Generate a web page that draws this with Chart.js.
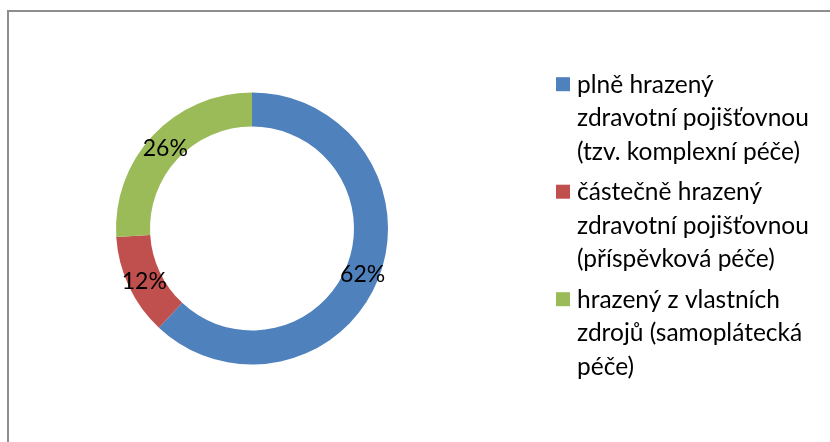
<!DOCTYPE html>
<html><head><meta charset="utf-8">
<style>html,body{margin:0;padding:0;background:#fff}#wrap{width:830px;height:442px;position:relative}</style>
<script src="https://cdn.jsdelivr.net/npm/chart.js@4/dist/chart.umd.min.js"></script>
</head><body><div id="wrap"><canvas id="c" width="830" height="442"></canvas></div>
<script>
const categories = [
  ["plně hrazený", "zdravotní pojišťovnou", "(tzv. komplexní péče)"],
  ["částečně hrazený", "zdravotní pojišťovnou", "(příspěvková péče)"],
  ["hrazený z vlastních", "zdrojů (samoplátecká", "péče)"]
];
const values = [62, 12, 26];
const colors = ['#4F81BD', '#C0504D', '#9BBB59'];

const FONT = 'Lato, "Open Sans", sans-serif';

const framePlugin = {
  id: 'frame',
  beforeDraw(chart) {
    const ctx = chart.ctx;
    ctx.save();
    ctx.fillStyle = '#fff';
    ctx.fillRect(0, 0, chart.width, chart.height);
    ctx.strokeStyle = '#8e8e8e';
    ctx.lineWidth = 2;
    ctx.beginPath();
    ctx.moveTo(8, chart.height + 2);
    ctx.lineTo(8, 11);
    ctx.lineTo(chart.width + 2, 11);
    ctx.stroke();
    ctx.restore();
  }
};

const labelPlugin = {
  id: 'pctLabels',
  afterDatasetsDraw(chart) {
    const ctx = chart.ctx;
    const meta = chart.getDatasetMeta(0);
    const data = chart.data.datasets[0].data;
    const total = data.reduce((a, b) => a + b, 0);
    ctx.save();
    ctx.font = '23px ' + FONT;
    ctx.fillStyle = '#000';
    ctx.textAlign = 'center';
    ctx.textBaseline = 'middle';
    meta.data.forEach((arc, i) => {
      const p = arc.getCenterPoint();
      ctx.fillText(Math.round(data[i] / total * 100) + '%', p.x, p.y + 2);
    });
    ctx.restore();
  }
};

const legendPlugin = {
  id: 'wrapLegend',
  afterDraw(chart) {
    const ctx = chart.ctx;
    const ds = chart.data.datasets[0];
    ctx.save();
    ctx.font = '24.5px ' + FONT;
    ctx.textAlign = 'left';
    ctx.textBaseline = 'alphabetic';
    chart.data.labels.forEach((lines, i) => {
      const base = 92.7 + i * 107.5;
      ctx.fillStyle = ds.backgroundColor[i];
      ctx.fillRect(556, base - 15.5, 14, 14);
      ctx.fillStyle = '#000';
      lines.forEach((t, j) => ctx.fillText(t, 577, base + j * 33.5));
    });
    ctx.restore();
  }
};

new Chart(document.getElementById('c'), {
  type: 'doughnut',
  data: {
    labels: categories,
    datasets: [{
      data: values,
      backgroundColor: colors,
      borderWidth: 0
    }]
  },
  options: {
    responsive: false,
    animation: false,
    cutout: '75%',
    rotation: 0,
    layout: { padding: { left: 116, right: 442, top: 92.5, bottom: 77.5 } },
    plugins: { legend: { display: false }, tooltip: { enabled: false } }
  },
  plugins: [framePlugin, labelPlugin, legendPlugin]
});
</script>
</body></html>
